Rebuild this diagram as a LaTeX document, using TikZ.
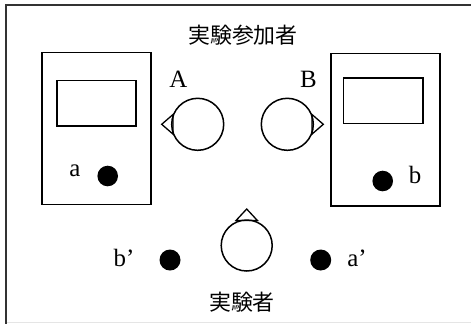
\documentclass[tikz,border=0pt]{standalone}
\usepackage{fontspec}
\setmainfont{Liberation Serif}
\newfontfamily\jpfont{Noto Sans CJK JP}
\begin{document}
\begin{tikzpicture}[x=1bp,y=-1bp,
  line width=1.5bp,
  jplabel/.style={font=\jpfont\fontsize{22}{26}\selectfont, inner sep=0pt},
  letter/.style={font=\fontsize{25}{28}\selectfont, inner sep=0pt},
  device/.style={draw, line width=1.6bp},
  knob/.style={fill=black, draw=none},
  head/.style={draw, line width=1.5bp},
  nose/.style={draw, line width=1.3bp, line join=miter}]
\useasboundingbox (0,0) rectangle (471,324);
% frame
\draw[line width=2bp, draw=black!80] (471,5) -- (6,5) -- (6,324);
\draw[line width=1bp, draw=black!10] (7,322.5) -- (471,322.5);

% titles
\node[jplabel] (participants) at (243,35) {実験参加者};
\node[jplabel] (experimenter) at (242,302) {実験者};

% left device
\draw[device] (41.7,52.3) rectangle (150.7,204.3);
\draw[device] (56.7,80.3) rectangle (135.7,125.7);
\fill[knob] (107.7,176) circle (10.3);
\node[letter] (la) at (75,171) {a};

% right device
\draw[device] (331,53.3) rectangle (440,206);
\draw[device] (343.3,77.7) rectangle (422.7,123.3);
\fill[knob] (382.7,181) circle (10.3);
\node[letter] (lb) at (415,175) {b};

% participant A
\draw[head] (197.7,124.3) circle (26);
\draw[nose] (173,114.5) -- (161.7,124.3) -- (173,134.1) -- cycle;
\node[letter] (lA) at (178.3,79) {A};

% participant B
\draw[head] (287.3,124.3) circle (26);
\draw[nose] (312,114.5) -- (323.3,124.3) -- (312,134.1) -- cycle;
\node[letter] (lB) at (308.3,79) {B};

% experimenter
\draw[head] (246.7,245.5) circle (25.5);
\draw[nose] (236,220.5) -- (246.7,209) -- (257.4,220.5) -- cycle;
\fill[knob] (170,260) circle (10.5);
\fill[knob] (320.7,260) circle (10.5);
\node[letter] (lbp) at (124,258) {b’};
\node[letter] (lap) at (357,258) {a’};
\end{tikzpicture}
\end{document}
